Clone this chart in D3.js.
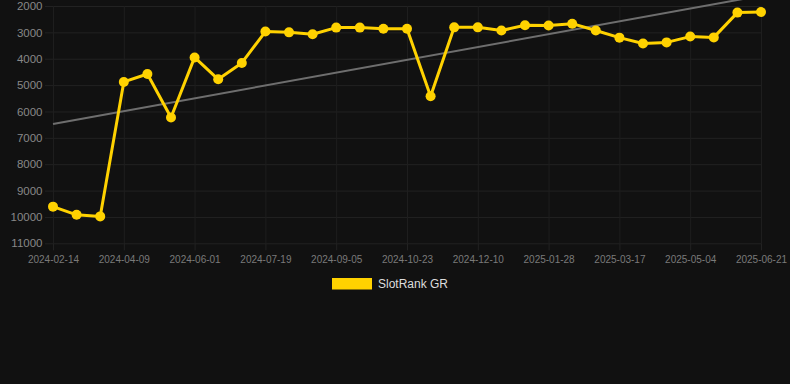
<!DOCTYPE html>
<html>
<head>
<meta charset="utf-8">
<script src="https://cdn.jsdelivr.net/npm/d3@7"></script>
<style>
  html, body { margin: 0; padding: 0; background: #111111; }
  svg { display: block; font-family: "Liberation Sans", Arial, sans-serif; }
</style>
</head>
<body>
<svg id="chart" width="790" height="384"></svg>
<script>
// dates on the x axis (only every 3rd gets a label)
const dates = [
  "2024-02-14", "2024-03-03", "2024-03-21", "2024-04-09", "2024-04-27", "2024-05-14",
  "2024-06-01", "2024-06-17", "2024-07-03", "2024-07-19", "2024-08-04", "2024-08-20",
  "2024-09-05", "2024-09-21", "2024-10-07", "2024-10-23", "2024-11-08", "2024-11-24",
  "2024-12-10", "2024-12-26", "2025-01-11", "2025-01-28", "2025-02-13", "2025-03-01",
  "2025-03-17", "2025-04-02", "2025-04-18", "2025-05-04", "2025-05-20", "2025-06-05",
  "2025-06-21"
];
const rank = [
  9610, 9920, 9980, 4880, 4580, 6230, 3950, 4780, 4160, 2970, 3000, 3070,
  2820, 2820, 2860, 2860, 5420, 2810, 2810, 2930, 2730, 2740, 2670, 2930,
  3200, 3420, 3380, 3160, 3190, 2250, 2230
];
const trend = [6475, 1610]; // start / end of the trend line
const yTicks = [2000, 3000, 4000, 5000, 6000, 7000, 8000, 9000, 10000, 11000];
const seriesName = "SlotRank GR";

const svg = d3.select("#chart");
const plotL = 53, plotR = 761, plotT = 6, plotB = 243.3;

const x = d3.scalePoint().domain(dates).range([plotL, plotR]);
const y = d3.scaleLinear().domain([2000, 11000]).range([plotT, plotB]);

// horizontal grid (runs a few px into the label area, like chart.js ticks)
const gridY = svg.append("g")
  .attr("transform", `translate(${plotR},0)`)
  .call(d3.axisLeft(y).tickValues(yTicks).tickSize(plotR - plotL + 8).tickFormat(""));
gridY.select(".domain").remove();
gridY.selectAll("line").attr("stroke", "#222222").attr("stroke-width", 1);

// vertical grid at labelled dates
const shown = dates.filter((d, i) => i % 3 === 0);
const gridX = svg.append("g")
  .attr("transform", `translate(0,${plotB})`)
  .call(d3.axisBottom(x).tickValues(shown).tickSize(-(plotB - plotT)).tickFormat(""));
gridX.select(".domain").remove();
gridX.selectAll("line").attr("stroke", "#1e1e1e").attr("stroke-width", 1);

// y labels
const yAxis = svg.append("g")
  .attr("transform", `translate(${plotL},0)`)
  .call(d3.axisLeft(y).tickValues(yTicks).tickSize(0).tickPadding(10.5).tickFormat(d3.format("d")));
yAxis.select(".domain").remove();
yAxis.selectAll("text").attr("fill", "#888888").style("font-size", "11.5px");

// x labels
const xAxis = svg.append("g")
  .attr("transform", `translate(0,${plotB})`)
  .call(d3.axisBottom(x).tickValues(shown).tickSize(7).tickPadding(6));
xAxis.select(".domain").remove();
xAxis.selectAll("line").attr("stroke", "#222222");
xAxis.selectAll("text").attr("fill", "#7a7a7a").style("font-size", "10px");

// trend line
svg.append("line")
  .attr("x1", plotL).attr("y1", y(trend[0]))
  .attr("x2", plotR).attr("y2", y(trend[1]))
  .attr("stroke", "#6e6e6e").attr("stroke-width", 2);

// series
const line = d3.line().x((d, i) => x(dates[i])).y(d => y(d));
svg.append("path")
  .datum(rank)
  .attr("d", line)
  .attr("fill", "none")
  .attr("stroke", "#ffd200")
  .attr("stroke-width", 3)
  .attr("stroke-linejoin", "round");

svg.append("g").selectAll("circle")
  .data(rank)
  .join("circle")
  .attr("cx", (d, i) => x(dates[i]))
  .attr("cy", d => y(d))
  .attr("r", 5)
  .attr("fill", "#ffd200");

// legend
const legend = svg.append("g").attr("transform", "translate(332,278)");
legend.append("rect").attr("width", 40).attr("height", 11.5).attr("fill", "#ffd200");
legend.append("text")
  .attr("x", 46).attr("y", 6).attr("dy", "0.35em")
  .attr("fill", "#dddddd").style("font-size", "12px")
  .text(seriesName);
</script>
</body>
</html>
